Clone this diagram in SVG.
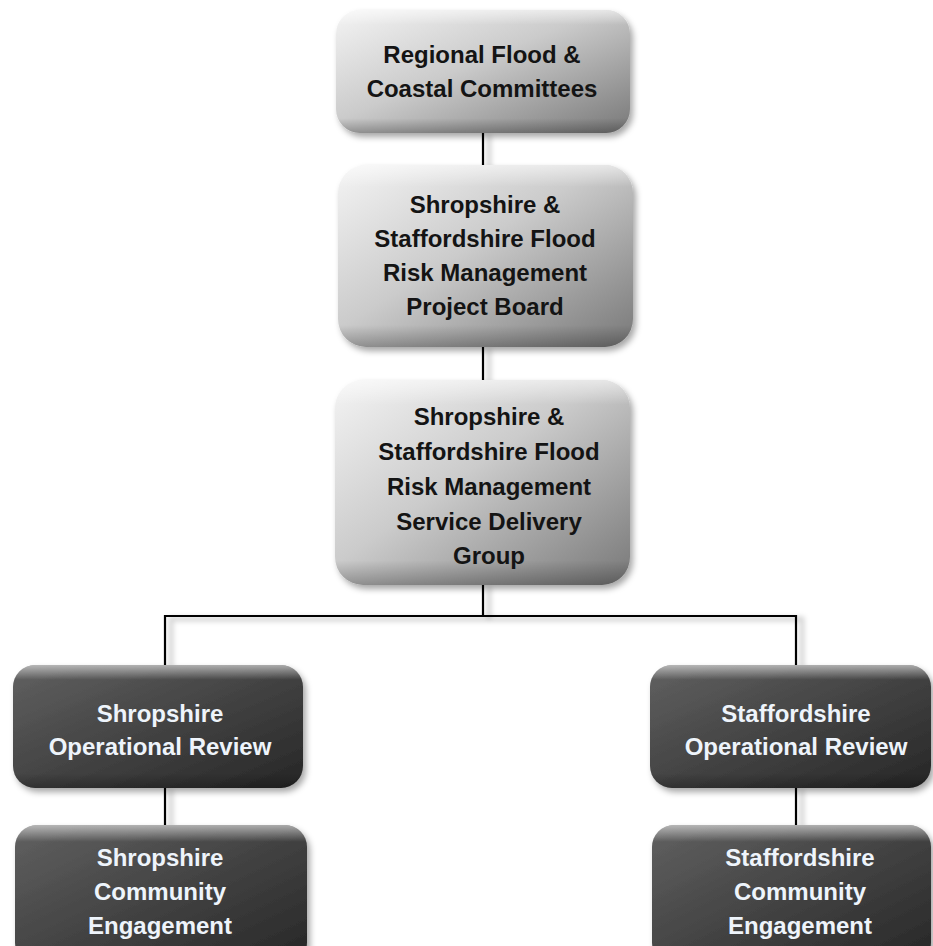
<svg xmlns="http://www.w3.org/2000/svg" width="933" height="946" viewBox="0 0 933 946">
<defs>
<linearGradient id="gLight" x1="0" y1="0" x2="1" y2="1">
<stop offset="0" stop-color="#f4f4f4"/>
<stop offset="0.45" stop-color="#cbcbcb"/>
<stop offset="1" stop-color="#787878"/>
</linearGradient>
<linearGradient id="gDark" x1="0" y1="0" x2="1" y2="1">
<stop offset="0" stop-color="#616161"/>
<stop offset="0.5" stop-color="#434343"/>
<stop offset="1" stop-color="#262626"/>
</linearGradient>
<linearGradient id="gBevel" x1="0" y1="0" x2="0" y2="1">
<stop offset="0" stop-color="#ffffff" stop-opacity="0.55"/>
<stop offset="0.12" stop-color="#ffffff" stop-opacity="0"/>
<stop offset="0.88" stop-color="#000000" stop-opacity="0"/>
<stop offset="1" stop-color="#000000" stop-opacity="0.25"/>
</linearGradient>
<filter id="sh" x="-10%" y="-10%" width="125%" height="130%">
<feDropShadow dx="3" dy="4" stdDeviation="3" flood-color="#000" flood-opacity="0.35"/>
</filter>
<filter id="blur" filterUnits="userSpaceOnUse" x="0" y="0" width="933" height="946">
<feGaussianBlur stdDeviation="2.5"/>
</filter>
</defs>
<style>
.light{fill:url(#gLight);filter:url(#sh)}
.dark{fill:url(#gDark);filter:url(#sh)}
.bevel{fill:url(#gBevel)}
.t{font-family:"Liberation Sans",Arial,sans-serif;font-weight:bold;font-size:24px;text-anchor:middle}
.tl{fill:#141414}
.td{fill:#eef4fb}
.conn{fill:none;stroke:#000;stroke-width:2.2}
.cs{fill:none;stroke:#000;stroke-opacity:0.16;stroke-width:5}
</style>
<rect width="933" height="946" fill="#fff"/>
<g id="connectors">
<g filter="url(#blur)" transform="translate(6,3)">
<line class="cs" x1="483" y1="132" x2="483" y2="166"/>
<line class="cs" x1="483" y1="346" x2="483" y2="381"/>
<line class="cs" x1="483" y1="584" x2="483" y2="616"/>
<polyline class="cs" points="165,665 165,616 796,616 796,665"/>
<line class="cs" x1="165" y1="787" x2="165" y2="825"/>
<line class="cs" x1="796" y1="787" x2="796" y2="825"/>
</g>
<line class="conn" x1="483" y1="132" x2="483" y2="166"/>
<line class="conn" x1="483" y1="346" x2="483" y2="381"/>
<line class="conn" x1="483" y1="584" x2="483" y2="616"/>
<polyline class="conn" points="165,665 165,616 796,616 796,665"/>
<line class="conn" x1="165" y1="787" x2="165" y2="825"/>
<line class="conn" x1="796" y1="787" x2="796" y2="825"/>
</g>
<g id="n1">
<rect class="light" x="336" y="10" width="294" height="123" rx="24"/>
<rect class="bevel" x="336" y="10" width="294" height="123" rx="24"/>
<text class="t tl" x="482" y="63">Regional Flood &amp;</text>
<text class="t tl" x="482" y="97">Coastal Committees</text>
</g>
<g id="n2">
<rect class="light" x="338" y="165" width="295" height="182" rx="28"/>
<rect class="bevel" x="338" y="165" width="295" height="182" rx="28"/>
<text class="t tl" x="485" y="213">Shropshire &amp;</text>
<text class="t tl" x="485" y="247">Staffordshire Flood</text>
<text class="t tl" x="485" y="281">Risk Management</text>
<text class="t tl" x="485" y="315">Project Board</text>
</g>
<g id="n3">
<rect class="light" x="335" y="380" width="295" height="205" rx="28"/>
<rect class="bevel" x="335" y="380" width="295" height="205" rx="28"/>
<text class="t tl" x="489" y="425">Shropshire &amp;</text>
<text class="t tl" x="489" y="460">Staffordshire Flood</text>
<text class="t tl" x="489" y="495">Risk Management</text>
<text class="t tl" x="489" y="530">Service Delivery</text>
<text class="t tl" x="489" y="564">Group</text>
</g>
<g id="n4">
<rect class="dark" x="13" y="665" width="290" height="123" rx="22"/>
<rect class="bevel" x="13" y="665" width="290" height="123" rx="22"/>
<text class="t td" x="160" y="722">Shropshire</text>
<text class="t td" x="160" y="755">Operational Review</text>
</g>
<g id="n5">
<rect class="dark" x="650" y="665" width="281" height="123" rx="22"/>
<rect class="bevel" x="650" y="665" width="281" height="123" rx="22"/>
<text class="t td" x="796" y="722">Staffordshire</text>
<text class="t td" x="796" y="755">Operational Review</text>
</g>
<g id="n6">
<rect class="dark" x="15" y="825" width="292" height="140" rx="22"/>
<rect class="bevel" x="15" y="825" width="292" height="140" rx="22"/>
<text class="t td" x="160" y="866">Shropshire</text>
<text class="t td" x="160" y="900">Community</text>
<text class="t td" x="160" y="934">Engagement</text>
</g>
<g id="n7">
<rect class="dark" x="652" y="825" width="279" height="140" rx="22"/>
<rect class="bevel" x="652" y="825" width="279" height="140" rx="22"/>
<text class="t td" x="800" y="866">Staffordshire</text>
<text class="t td" x="800" y="900">Community</text>
<text class="t td" x="800" y="934">Engagement</text>
</g>
</svg>
